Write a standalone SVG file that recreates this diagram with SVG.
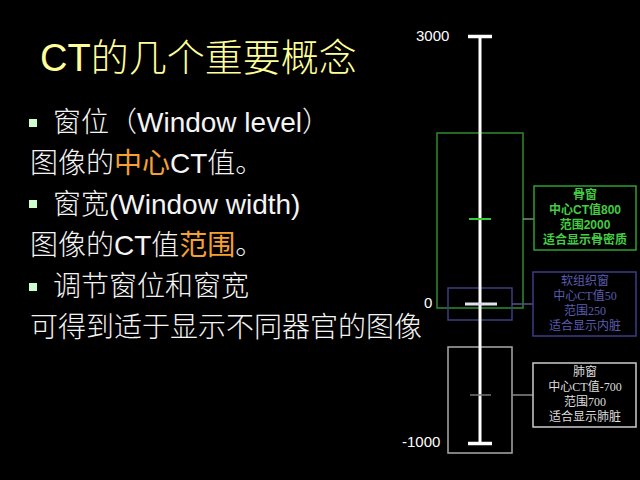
<svg xmlns="http://www.w3.org/2000/svg" width="640" height="480" viewBox="0 0 640 480">
<style>
.t{font-family:"Liberation Sans","Noto Sans CJK SC",sans-serif;fill:#f4f4f4;font-weight:300}
.big{font-size:28px}
.org{fill:#f5a030;font-weight:400}
.ax{font-family:"Liberation Sans",sans-serif;font-size:15px;fill:#ffffff}
.lb{font-size:12px;text-anchor:middle}
.sans{font-family:"Liberation Sans","Noto Sans CJK SC",sans-serif}
.serif{font-family:"Liberation Serif","Noto Sans CJK SC",serif}
.bul{fill:#ccffcc}
</style>
<rect x="0" y="0" width="640" height="480" fill="#000000"/>
<g id="title">
<text class="t" x="40" y="71" font-size="38" style="fill:#ffff99">CT的几个重要概念</text>
</g>
<g id="body">
<rect class="bul" x="29" y="119" width="8" height="8"/>
<text class="t big" x="53" y="132">窗位（Window level）</text>
<text class="t big" x="30" y="173">图像的<tspan class="org">中心</tspan>CT值。</text>
<rect class="bul" x="29" y="200" width="8" height="8"/>
<text class="t big" x="53" y="214">窗宽(Window width)</text>
<text class="t big" x="30" y="255">图像的CT值<tspan class="org">范围</tspan>。</text>
<rect class="bul" x="29" y="283" width="8" height="8"/>
<text class="t big" x="53" y="296">调节窗位和窗宽</text>
<text class="t big" x="30" y="337">可得到适于显示不同器官的图像</text>
</g>
<g id="windows" fill="none">
<rect id="bone-window" x="437" y="133" width="86" height="175" stroke="#2e8b2e" stroke-width="1.5"/>
<rect id="soft-window" x="448" y="288" width="64" height="32" stroke="#3c3c80" stroke-width="1.5"/>
<rect id="lung-window" x="448" y="347" width="64" height="106" stroke="#aaaaaa" stroke-width="1.5"/>
</g>
<g id="axis">
<line x1="480" y1="36.5" x2="480" y2="443.5" stroke="#ffffff" stroke-width="3"/>
<line x1="468" y1="36.5" x2="492" y2="36.5" stroke="#ffffff" stroke-width="3.5"/>
<line x1="468" y1="443.5" x2="492" y2="443.5" stroke="#ffffff" stroke-width="3.5"/>
<line x1="469" y1="219" x2="491" y2="219" stroke="#33cc33" stroke-width="2"/>
<line x1="465" y1="304" x2="497" y2="304" stroke="#e0e0ee" stroke-width="3"/>
<line x1="470" y1="395" x2="491" y2="395" stroke="#777777" stroke-width="1.5"/>
<text class="ax" x="416" y="41">3000</text>
<text class="ax" x="424" y="308">0</text>
<text class="ax" x="402" y="447">-1000</text>
</g>
<g id="connectors" fill="none" stroke-width="1.5">
<line x1="523" y1="219" x2="534" y2="219" stroke="#6a9a6a"/>
<line x1="512" y1="304" x2="533" y2="304" stroke="#555588"/>
<line x1="512" y1="395" x2="533" y2="395" stroke="#888888"/>
</g>
<g id="bone-label">
<rect x="534" y="186" width="102" height="64" fill="none" stroke="#2fa02f" stroke-width="1.5"/>
<g class="lb sans" fill="#44cc44" font-weight="bold">
<text x="585" y="199">骨窗</text>
<text x="585" y="214">中心CT值800</text>
<text x="585" y="229">范围2000</text>
<text x="585" y="244">适合显示骨密质</text>
</g>
</g>
<g id="soft-label">
<rect x="533" y="272" width="103" height="64" fill="none" stroke="#3c3c88" stroke-width="1.5"/>
<g class="lb serif" fill="#5b5bb0">
<text x="585" y="285">软组织窗</text>
<text x="585" y="300">中心CT值50</text>
<text x="585" y="315">范围250</text>
<text x="585" y="330">适合显示内脏</text>
</g>
</g>
<g id="lung-label">
<rect x="533" y="363" width="103" height="64" fill="none" stroke="#cccccc" stroke-width="1.5"/>
<g class="lb serif" fill="#dddddd">
<text x="585" y="376">肺窗</text>
<text x="585" y="391">中心CT值-700</text>
<text x="585" y="406">范围700</text>
<text x="585" y="421">适合显示肺脏</text>
</g>
</g>
</svg>
